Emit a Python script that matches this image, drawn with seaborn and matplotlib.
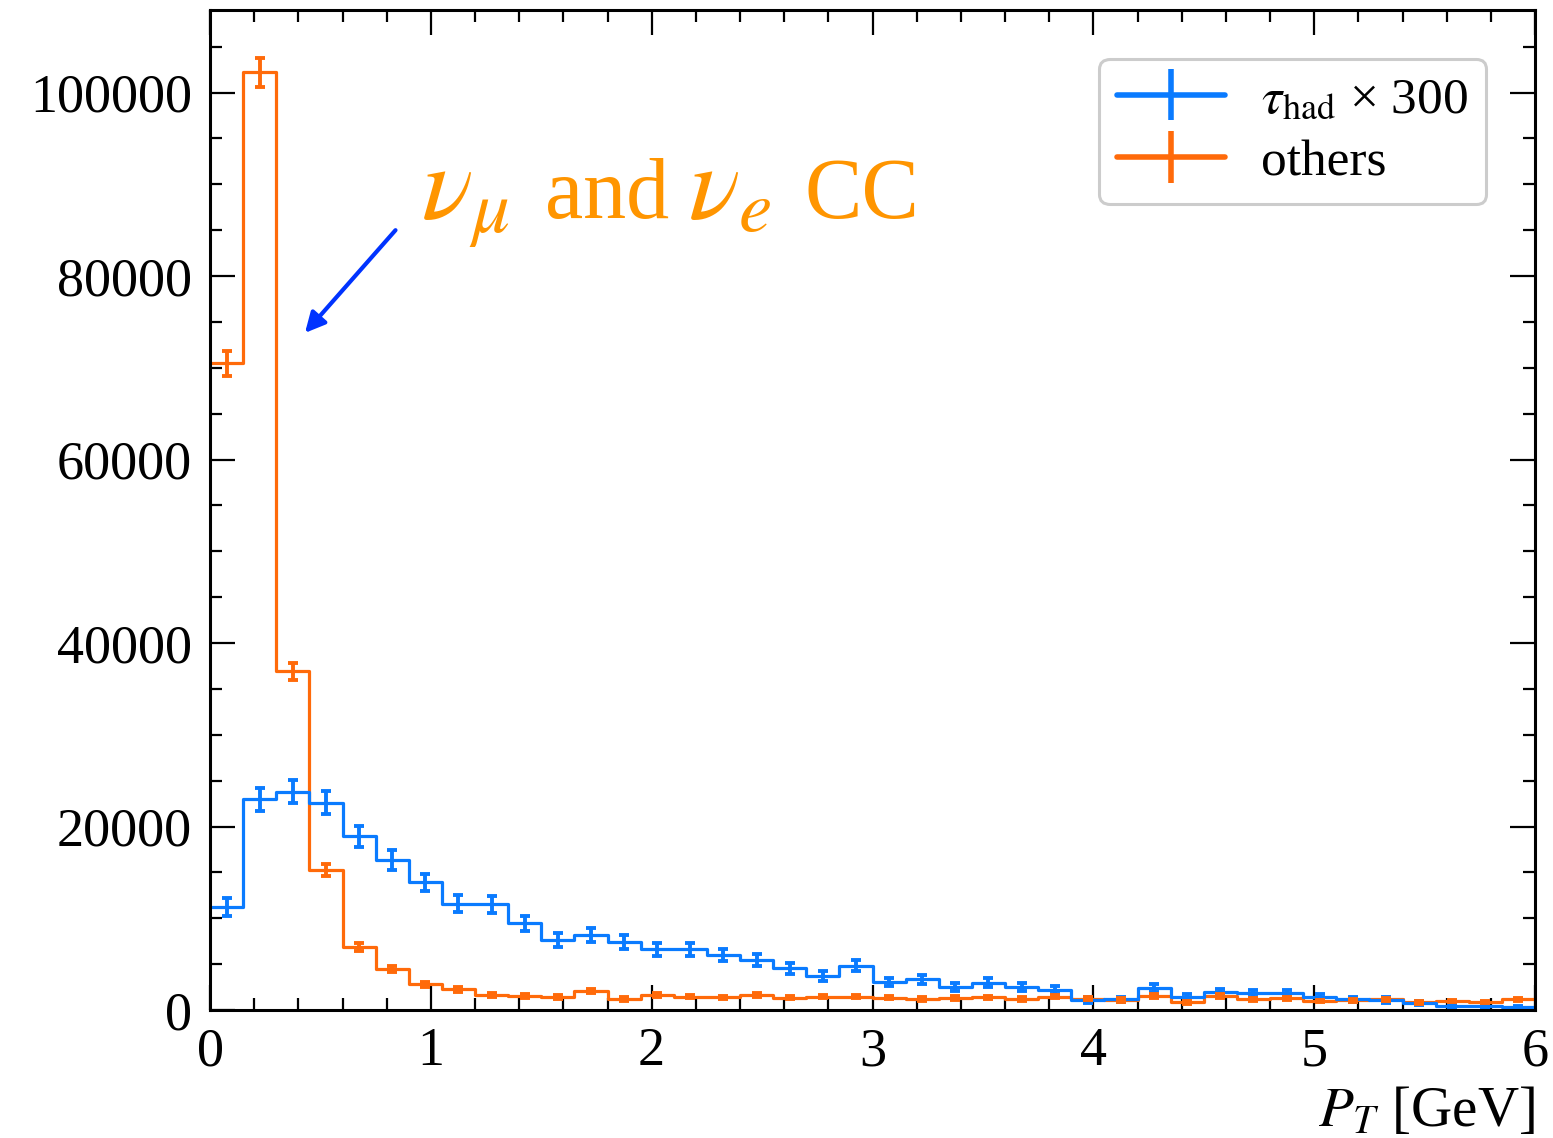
import numpy as np
import pandas as pd
import matplotlib
matplotlib.use("Agg")
import matplotlib.pyplot as plt
from matplotlib.ticker import MultipleLocator
import seaborn as sns

# ---- data ----
bin_edges = [round(0.15 * i, 2) for i in range(41)]

tau_had_x300 = [11250, 22950, 23800, 22600, 18950, 16340, 13900, 11600, 11500, 9440,
                7620, 8200, 7400, 6610, 6610, 5950, 5450, 4540, 3700, 4830,
                3050, 3340, 2540, 2980, 2470, 2180, 1100, 1150, 2430, 1380,
                1920, 1820, 1820, 1380, 1160, 1090, 760, 440, 440, 290]
tau_had_err = [950, 1270, 1250, 1230, 1130, 1050, 960, 930, 900, 850,
               760, 780, 780, 700, 700, 650, 620, 570, 520, 580,
               470, 490, 430, 460, 420, 400, 290, 300, 420, 320,
               380, 360, 360, 320, 290, 280, 240, 180, 180, 150]

others = [70500, 102200, 36900, 15250, 6900, 4500, 2830, 2250, 1630, 1520,
          1420, 2070, 1200, 1600, 1450, 1380, 1630, 1340, 1450, 1450,
          1340, 1200, 1300, 1380, 1200, 1450, 1230, 1090, 1560, 840,
          1525, 1160, 1270, 980, 1050, 1160, 840, 980, 870, 1160]
others_err = [1350, 1600, 950, 620, 420, 340, 270, 240, 200, 200,
              190, 230, 180, 200, 190, 190, 200, 180, 190, 190,
              180, 180, 180, 190, 180, 190, 180, 170, 200, 150,
              190, 170, 180, 160, 160, 170, 150, 160, 150, 170]

series_labels = [r"$\tau_{\rm had}$ × 300", "others"]
colors = ["#0A7BFF", "#FF6A0A"]

# ---- build tidy frame ----
centers = [(bin_edges[i] + bin_edges[i + 1]) / 2 for i in range(40)]
df = pd.DataFrame({
    "pt": centers * 2,
    "count": tau_had_x300 + others,
    "series": [series_labels[0]] * 40 + [series_labels[1]] * 40,
})

sns.set_style("ticks")
plt.rcParams["font.family"] = ["Liberation Serif", "DejaVu Serif"]
plt.rcParams["mathtext.fontset"] = "stix"
for k in ["text.color", "axes.labelcolor", "xtick.color", "ytick.color", "axes.edgecolor"]:
    plt.rcParams[k] = "black"

fig = plt.figure(figsize=(15.53, 11.38), dpi=100)
ax = fig.add_axes([210 / 1553, 1 - 1010 / 1138, 1325 / 1553, 1000 / 1138])

sns.histplot(data=df, x="pt", weights="count", hue="series", bins=bin_edges,
             element="step", fill=False, palette=colors,
             hue_order=series_labels, legend=False, linewidth=2.3, ax=ax)

handles = []
for vals, errs, c, lab in [(tau_had_x300, tau_had_err, colors[0], series_labels[0]),
                           (others, others_err, colors[1], series_labels[1])]:
    ax.errorbar(centers, vals, yerr=errs, fmt="none", ecolor=c,
                elinewidth=2.8, capsize=3.6, capthick=2.8)
    h = ax.errorbar([np.nan], [np.nan], yerr=[1.0], fmt="-", color=c,
                    lw=4, elinewidth=4, capsize=0, label=lab)
    handles.append(h)

ax.set_xlim(0, 6)
ax.set_ylim(0, 109000)
ax.xaxis.set_major_locator(MultipleLocator(1))
ax.xaxis.set_minor_locator(MultipleLocator(0.2))
ax.yaxis.set_major_locator(MultipleLocator(20000))
ax.yaxis.set_minor_locator(MultipleLocator(5000))
ax.tick_params(which="both", direction="in", top=True, right=True, width=1.6,
               color="black")
ax.tick_params(which="major", length=18, labelsize=39)
ax.tick_params(which="minor", length=8.5)
ax.tick_params(axis="x", pad=12)
ax.tick_params(axis="y", pad=13)
for sp in ax.spines.values():
    sp.set_linewidth(2.2)
    sp.set_visible(True)
    sp.set_color("black")

ax.set_ylabel("")
ax.set_xlabel(r"$P_T$ [GeV]", fontsize=41, loc="right", labelpad=6)

leg = ax.legend(handles=handles, labels=series_labels, loc="upper right",
                fontsize=37, frameon=True, fancybox=True, framealpha=1,
                edgecolor="#cccccc", handlelength=2.1, handletextpad=0.7,
                borderaxespad=0.95, borderpad=0.35, labelspacing=0.3)
leg.get_frame().set_linewidth(2.2)

# annotation pieces (x in data units, common baseline)
ann_color = "#FF9500"
base_y = 86300
ax.text(0.955, base_y, r"$\nu_\mu$", fontsize=77, color=ann_color, va="baseline", ha="left")
ax.text(1.515, base_y, "and", fontsize=62, color=ann_color, va="baseline", ha="left")
ax.text(2.165, base_y, r"$\nu_e$", fontsize=77, color=ann_color, va="baseline", ha="left")
ax.text(2.690, base_y, "CC", fontsize=62, color=ann_color, va="baseline", ha="left")

ax.annotate("", xy=(0.43, 73800), xytext=(0.84, 85000),
            arrowprops=dict(arrowstyle="-|>", color="#0033FF", lw=3,
                            mutation_scale=30, shrinkA=0, shrinkB=0))

fig.savefig("out.png", dpi=100)
